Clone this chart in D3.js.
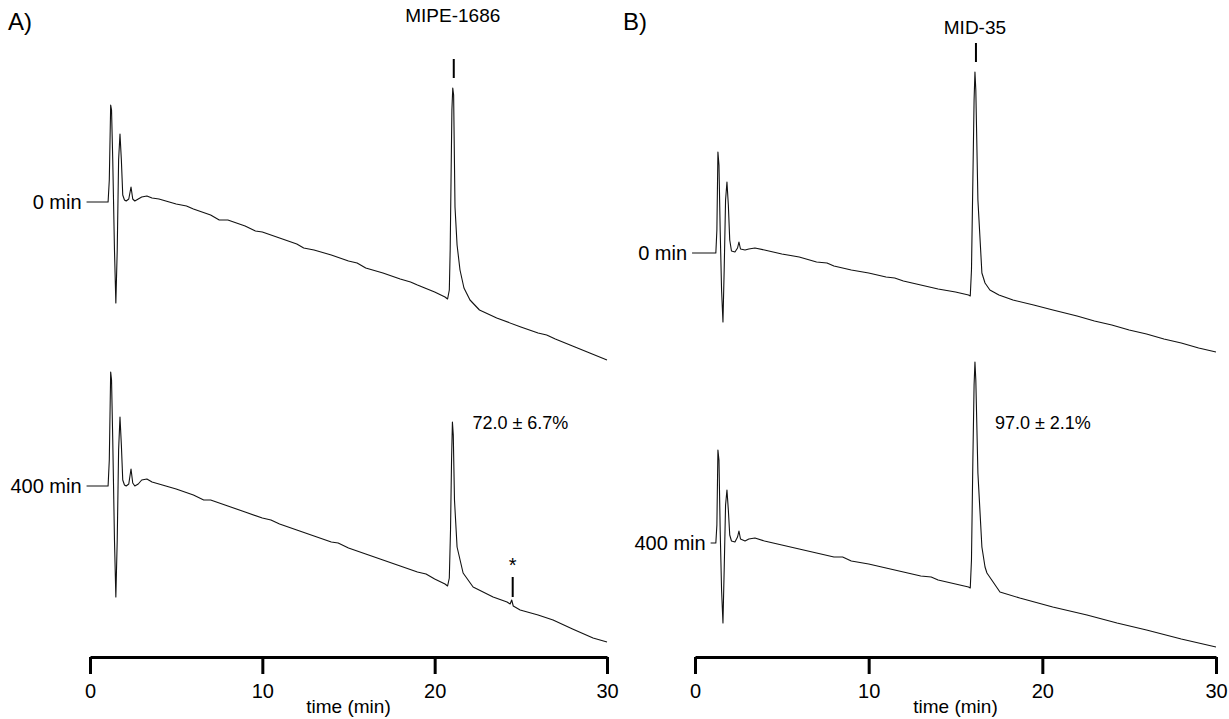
<!DOCTYPE html>
<html>
<head>
<meta charset="utf-8">
<script src="https://cdn.jsdelivr.net/npm/d3@7.9.0/dist/d3.min.js"></script>
<style>
  body { margin: 0; background: #fff; }
  svg text { font-family: "Liberation Sans", Arial, sans-serif; fill: #000; }
</style>
</head>
<body>
<svg id="chart" width="1229" height="719"></svg>
<script>
// tick labels / text
const axisTicks = [0, 10, 20, 30];
const panelLetters = ['A)', 'B)'];
const compounds = ['MIPE-1686', 'MID-35'];
const sampleLabels = ['0 min', '400 min'];
const recoveries = ['72.0 ± 6.7%', '97.0 ± 2.1%'];
const impurityTime = 24.47; // the "*" peak in A, 400 min

// A, 0 min  (time in min, signal in a.u.)
const timeA0 = [-0.2, 1.05, 1.12, 1.2, 1.25, 1.32, 1.42, 1.5, 1.58, 1.66, 1.74, 1.82, 1.9, 2.0, 2.1, 2.25, 2.38, 2.48, 2.6, 2.8, 3.0, 3.3, 3.6, 4.0,
  5, 5.6, 6, 7, 7.5, 8, 9, 9.6, 10, 11, 12, 12.4, 13, 14, 15, 15.5, 16, 17, 18, 18.6, 19, 20, 20.6, 20.75, 20.85, 20.9, 20.95, 21.0, 21.05, 21.1,
  21.18, 21.3, 21.47, 21.7, 22.05, 22.6, 23.6, 25, 26, 26.5, 27, 28, 29, 30];
const signalA0 = [227.5, 227.5, 238.5, 276, 273.5, 248.5, 203.5, 177, 203.5, 248.5, 261.5, 248.5, 231, 228.5, 228, 229, 235, 229, 228, 229, 230, 230.5, 229.5, 229,
  226.5, 225.5, 224, 221, 218.5, 218.5, 215.5, 213, 212.5, 209.5, 206.5, 204.5, 203.5, 201, 198, 197, 194.5, 192, 189, 187.5, 186, 182.5, 180, 179, 183.5, 203.5, 238.5, 273.5, 284.5, 281,
  225, 206, 193.5, 184.5, 178.5, 173.5, 169.5, 165, 162, 161, 159, 155.5, 152, 148.5];

// A, 400 min
const timeA400 = [-0.2, 1.05, 1.12, 1.2, 1.25, 1.32, 1.42, 1.5, 1.58, 1.66, 1.74, 1.82, 1.9, 2.0, 2.1, 2.25, 2.38, 2.48, 2.6, 2.8, 3.0, 3.3, 3.6, 4.0,
  5, 6, 6.6, 7, 8, 9, 10, 10.5, 11, 12, 13, 14, 14.4, 15, 16, 17, 18, 19, 19.5, 20, 20.6, 20.75, 20.85, 20.92, 20.98, 21.03, 21.08, 21.15,
  21.3, 21.65, 22.23, 23.39, 24.2, 24.38, 24.47, 24.56, 24.96, 26, 26.87, 28, 29.19, 30];
const signalA400 = [85.5, 85.5, 98.5, 142.5, 138.5, 108.5, 58.5, 30, 58.5, 103.5, 120, 106, 88.5, 86, 85.5, 86.5, 94, 87, 85.5, 86.5, 88.5, 89, 87.5, 86.5,
  84, 81, 78.5, 78.5, 75.5, 72.5, 69.5, 68.5, 66.5, 63.5, 60.5, 57.5, 57, 54.5, 51.5, 48.5, 45.5, 42.5, 41.5, 39, 36.5, 35.5, 39.5, 63.5, 98.5, 117.5, 111, 78.5,
  55, 42, 35, 30, 27.5, 26.5, 28.5, 25.5, 23.5, 21, 18.5, 14, 9.5, 7.5];

// B, 0 min
const timeB0 = [-0.17, 1.2, 1.26, 1.32, 1.38, 1.45, 1.53, 1.61, 1.68, 1.76, 1.84, 1.92, 2.0, 2.1, 2.3, 2.45, 2.53, 2.62, 2.88, 3.1, 3.45, 4.0,
  5, 6, 7, 7.6, 8, 9, 10, 11, 11.5, 12, 13, 14, 15, 15.75, 15.85, 15.92, 16.0, 16.07, 16.12, 16.17, 16.29, 16.52, 16.7, 16.98, 17.5, 18.31,
  19.5, 20.61, 22, 23, 24, 25, 26, 27, 28, 29, 30];
const signalB0 = [202, 202, 213.5, 252.5, 246, 213.5, 183.5, 167.5, 193.5, 228.5, 237.5, 226, 208.5, 203, 202.5, 204.5, 207.5, 204, 203.5, 204, 204.5, 203.5,
  201.5, 200, 197.5, 197, 195.5, 193.5, 192, 190, 189.5, 188, 186, 184, 182.5, 181, 180.5, 193.5, 238.5, 278.5, 292.5, 283.5, 228.5, 192, 187, 183.5, 181, 178.5,
  176, 173.5, 170.5, 168, 166, 163.5, 161.5, 159, 157, 154.5, 152.5];

// B, 400 min
const timeB400 = [0.9, 1.2, 1.26, 1.32, 1.38, 1.45, 1.53, 1.61, 1.68, 1.76, 1.84, 1.92, 2.0, 2.1, 2.3, 2.45, 2.53, 2.62, 2.88, 3.1, 3.45, 4.0,
  5, 6, 7, 8, 8.5, 9, 10, 11, 12, 13, 13.6, 14, 15, 15.75, 15.85, 15.92, 16.0, 16.07, 16.12, 16.17, 16.29, 16.52, 16.7, 16.81, 17.56, 18.7,
  20.6, 22.57, 24.3, 26, 28, 30];
const signalB400 = [57, 57, 66, 103.5, 98.5, 63.5, 33.5, 17, 43.5, 76, 83.5, 73.5, 61, 58, 57.5, 60, 63, 59, 58, 59, 59.5, 58,
  56, 54, 52, 50, 50, 48, 46.5, 44.5, 42.5, 40.5, 40, 38.5, 36.5, 35, 34.5, 48.5, 98.5, 136, 147.5, 138.5, 92, 55, 45, 42, 32.5, 29.5,
  25, 21, 17, 13.5, 9, 5];

const panels = [
  { letter: panelLetters[0], compound: compounds[0], recovery: recoveries[0], range: [90, 607], letterX: 8, nameY: 22,
    traces: [{ t: timeA0, s: signalA0, label: sampleLabels[0] }, { t: timeA400, s: signalA400, label: sampleLabels[1] }] },
  { letter: panelLetters[1], compound: compounds[1], recovery: recoveries[1], range: [695, 1216], letterX: 623, nameY: 34,
    traces: [{ t: timeB0, s: signalB0, label: sampleLabels[0] }, { t: timeB400, s: signalB400, label: sampleLabels[1] }] }
];

const svg = d3.select('#chart');
const axisY = 657;
const y = d3.scaleLinear().domain([0, 300]).range([axisY, 57]);

panels.forEach((p, pi) => {
  const x = d3.scaleLinear().domain([0, 30]).range(p.range);
  const g = svg.append('g');

  g.append('text').attr('x', p.letterX).attr('y', 30).attr('font-size', 24).text(p.letter);

  p.traces.forEach((tr, ti) => {
    const pts = tr.t.map((t, i) => [t, tr.s[i]]);
    g.append('path')
      .datum(pts)
      .attr('d', d3.line().x(d => x(d[0])).y(d => y(d[1])))
      .attr('fill', 'none')
      .attr('stroke', '#111')
      .attr('stroke-width', 1.1)
      .attr('stroke-linejoin', 'round');

    g.append('text')
      .attr('x', x(tr.t[0]) - 5)
      .attr('y', y(tr.s[0]))
      .attr('dy', '0.35em')
      .attr('text-anchor', 'end')
      .attr('font-size', 20)
      .text(tr.label);

    const top = pts[d3.maxIndex(pts, d => d[0] > 10 ? d[1] : -Infinity)];
    if (ti === 0) {
      // compound name over the main peak
      g.append('line')
        .attr('x1', x(top[0]) + 1).attr('x2', x(top[0]) + 1)
        .attr('y1', y(top[1]) - 10).attr('y2', y(top[1]) - 29)
        .attr('stroke', '#000').attr('stroke-width', 2);
      g.append('text')
        .attr('x', x(top[0]))
        .attr('y', p.nameY)
        .attr('text-anchor', 'middle')
        .attr('font-size', 19)
        .text(p.compound);
    } else {
      g.append('text')
        .attr('x', x(top[0]) + 20)
        .attr('y', 429)
        .attr('font-size', 18)
        .text(p.recovery);
    }
  });

  if (pi === 0) {
    const tr = p.traces[1];
    const i = d3.minIndex(tr.t, t => Math.abs(t - impurityTime));
    const xi = x(tr.t[i]) + 1;
    g.append('line')
      .attr('x1', xi).attr('x2', xi)
      .attr('y1', y(tr.s[i]) - 3).attr('y2', y(tr.s[i]) - 23)
      .attr('stroke', '#000').attr('stroke-width', 2);
    g.append('text')
      .attr('x', xi).attr('y', y(tr.s[i]) - 28)
      .attr('text-anchor', 'middle')
      .attr('font-size', 20)
      .text('*');
  }

  const axis = g.append('g')
    .attr('transform', `translate(0,${axisY})`)
    .call(d3.axisBottom(x).tickValues(axisTicks).tickSize(17).tickSizeOuter(0).tickPadding(10));
  axis.select('.domain').attr('stroke', '#000').attr('stroke-width', 3);
  axis.selectAll('.tick line').attr('stroke', '#000').attr('stroke-width', 3);
  axis.selectAll('.tick text')
    .attr('font-size', 20)
    .attr('font-family', '"Liberation Sans", Arial, sans-serif')
    .attr('fill', '#000');

  g.append('text')
    .attr('x', (p.range[0] + p.range[1]) / 2)
    .attr('y', 713)
    .attr('text-anchor', 'middle')
    .attr('font-size', 19)
    .text('time (min)');
});
</script>
</body>
</html>
